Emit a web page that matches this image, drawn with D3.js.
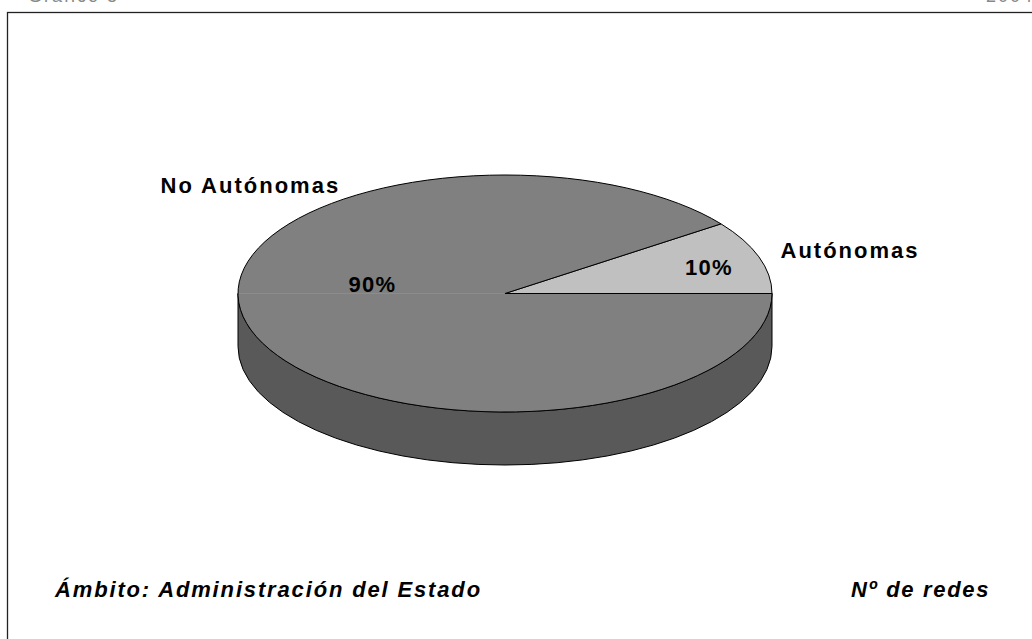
<!DOCTYPE html>
<html>
<head>
<meta charset="utf-8">
<script src="https://cdn.jsdelivr.net/npm/d3@7"></script>
<style>
  body { margin: 0; background: #fff; }
  svg { display: block; }
  text { font-family: "Liberation Sans", Arial, sans-serif; font-weight: bold; font-size: 22px; letter-spacing: 2px; fill: #000; }
</style>
</head>
<body>
<svg id="chart" width="1032" height="639"></svg>
<script>
// data
var categories = ["Autónomas", "No Autónomas"];
var values = [10, 90];
var pctLabels = ["10%", "90%"];
var footLeft = "Ámbito: Administración del Estado";
var footRight = "Nº de redes";

var svg = d3.select("#chart");
var W = 1032, H = 639;

// frame (clipped at right / bottom like the original)
svg.append("rect")
  .attr("x", 7.5).attr("y", 12.5)
  .attr("width", W + 10).attr("height", H + 10)
  .attr("fill", "none")
  .attr("stroke", "#222")
  .attr("stroke-width", 1.3);

// header text cut off at the very top
svg.append("text").attr("x", 28).attr("y", 2)
  .style("fill", "#888").style("font-weight", "normal").style("font-size", "18px")
  .text("Gráfico 8");
svg.append("text").attr("x", 1034).attr("y", 2)
  .attr("text-anchor", "end")
  .style("fill", "#888").style("font-weight", "normal").style("font-size", "18px")
  .text("2004");

// pie geometry
var cx = 505, cy = 293.5, rx = 267, ry = 118.5, depth = 53;
var topColors = ["#c0c0c0", "#808080"];
var sideColors = ["#8a8a8a", "#595959"];

// counterclockwise from 3 o'clock
var pie = d3.pie().sort(null)
  .startAngle(Math.PI / 2)
  .endAngle(Math.PI / 2 - 2 * Math.PI);
var arcs = pie(values);

function pt(a, dy) {
  return [cx + rx * Math.sin(a), cy - ry * Math.cos(a) + (dy || 0)];
}

function topPath(d) {
  var s = pt(d.startAngle), e = pt(d.endAngle);
  var large = Math.abs(d.endAngle - d.startAngle) > Math.PI ? 1 : 0;
  var p = d3.path();
  p.moveTo(cx, cy);
  p.lineTo(s[0], s[1]);
  return p.toString() + "A" + rx + "," + ry + " 0 " + large + " 0 " + e[0] + "," + e[1] + "Z";
}

// visible front part of a slice: d3 angles in [PI/2, 3PI/2]
function sideRanges(d) {
  var lo = Math.min(d.startAngle, d.endAngle), hi = Math.max(d.startAngle, d.endAngle);
  var out = [];
  [-2 * Math.PI, 0, 2 * Math.PI].forEach(function(k) {
    var a = Math.max(lo, Math.PI / 2 + k), b = Math.min(hi, 3 * Math.PI / 2 + k);
    if (b > a) out.push([a, b]);
  });
  return out;
}

function sidePath(r) {
  var a1 = pt(r[0]), a2 = pt(r[1]), b2 = pt(r[1], depth), b1 = pt(r[0], depth);
  return "M" + a1[0] + "," + a1[1] +
    "A" + rx + "," + ry + " 0 0 1 " + a2[0] + "," + a2[1] +
    "L" + b2[0] + "," + b2[1] +
    "A" + rx + "," + ry + " 0 0 0 " + b1[0] + "," + b1[1] + "Z";
}

var sides = [];
arcs.forEach(function(d, i) {
  sideRanges(d).forEach(function(r) { sides.push({r: r, i: i}); });
});

svg.append("g").selectAll("path").data(sides).enter().append("path")
  .attr("d", function(s) { return sidePath(s.r); })
  .attr("fill", function(s) { return sideColors[s.i]; })
  .attr("stroke", "#000")
  .attr("stroke-width", 1)
  .attr("stroke-linejoin", "round");

svg.append("g").selectAll("path").data(arcs).enter().append("path")
  .attr("d", topPath)
  .attr("fill", function(d, i) { return topColors[i]; })
  .attr("stroke", "#000")
  .attr("stroke-width", 1)
  .attr("stroke-linejoin", "round");

// faint seam on the big slice (left horizontal)
var seam = pt(3 * Math.PI / 2);
svg.append("line")
  .attr("x1", seam[0] + 1).attr("y1", cy)
  .attr("x2", cx - 1).attr("y2", cy)
  .attr("stroke", "#8c8c8c")
  .attr("stroke-width", 1);

// labels
var catPos = [[780.5, 258], [160.5, 193]];
var pctPos = [[685, 275], [348.5, 291.5]];

svg.append("g").selectAll("text").data(categories).enter().append("text")
  .attr("x", function(d, i) { return catPos[i][0]; })
  .attr("y", function(d, i) { return catPos[i][1]; })
  .text(function(d) { return d; });

svg.append("g").selectAll("text").data(pctLabels).enter().append("text")
  .attr("x", function(d, i) { return pctPos[i][0]; })
  .attr("y", function(d, i) { return pctPos[i][1]; })
  .style("letter-spacing", "1.3px")
  .text(function(d) { return d; });

svg.append("text")
  .attr("x", 55).attr("y", 597)
  .style("font-style", "italic")
  .style("letter-spacing", "1.85px")
  .text(footLeft);

svg.append("text")
  .attr("x", 851).attr("y", 597)
  .style("font-style", "italic")
  .style("letter-spacing", "1.7px")
  .text(footRight);
</script>
</body>
</html>
